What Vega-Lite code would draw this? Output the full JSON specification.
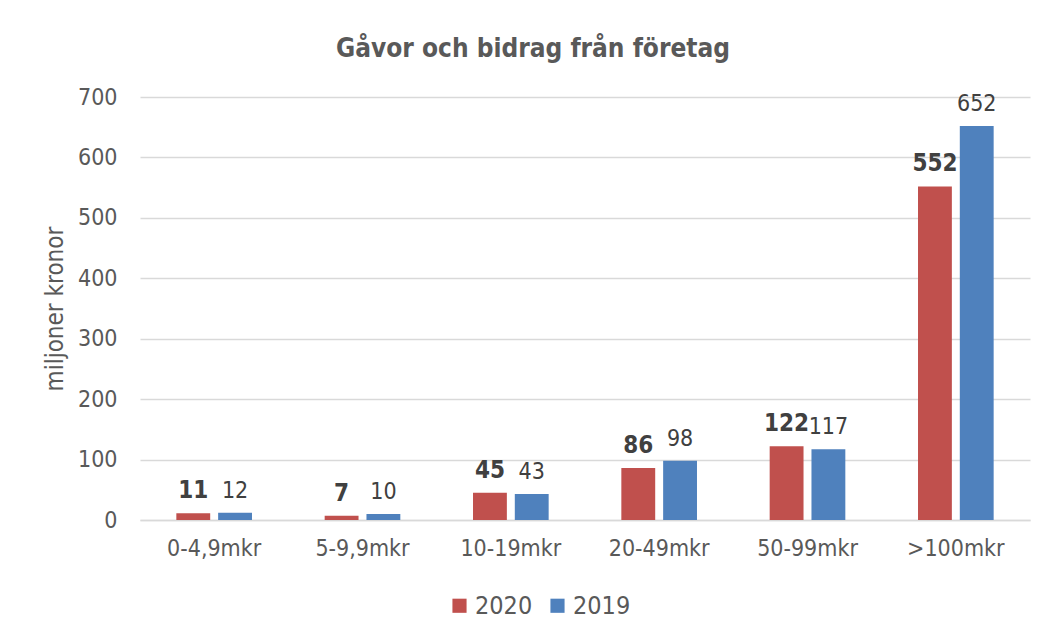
{
  "$schema": "https://vega.github.io/schema/vega-lite/v6.json",
  "autosize": {"type": "none"},
  "width": 890,
  "height": 423,
  "padding": {"left": 140, "top": 97, "right": 13, "bottom": 119},
  "background": "white",
  "title": {
    "text": "Gåvor och bidrag från företag",
    "font": "DejaVu Sans Condensed, Liberation Sans Narrow, DejaVu Sans",
    "fontSize": 26,
    "fontWeight": "bold",
    "color": "#595959",
    "anchor": "middle",
    "dx": -52,
    "offset": 24
  },
  "config": {
    "view": {"stroke": null},
    "font": "DejaVu Sans Condensed, Liberation Sans Narrow, DejaVu Sans"
  },
  "data": {
    "values": [
      {"kategori": "0-4,9mkr", "year": "2020", "value": 11},
      {"kategori": "0-4,9mkr", "year": "2019", "value": 12},
      {"kategori": "5-9,9mkr", "year": "2020", "value": 7},
      {"kategori": "5-9,9mkr", "year": "2019", "value": 10},
      {"kategori": "10-19mkr", "year": "2020", "value": 45},
      {"kategori": "10-19mkr", "year": "2019", "value": 43},
      {"kategori": "20-49mkr", "year": "2020", "value": 86},
      {"kategori": "20-49mkr", "year": "2019", "value": 98},
      {"kategori": "50-99mkr", "year": "2020", "value": 122},
      {"kategori": "50-99mkr", "year": "2019", "value": 117},
      {"kategori": ">100mkr", "year": "2020", "value": 552},
      {"kategori": ">100mkr", "year": "2019", "value": 652}
    ]
  },
  "encoding": {
    "x": {
      "field": "kategori",
      "type": "nominal",
      "sort": ["0-4,9mkr", "5-9,9mkr", "10-19mkr", "20-49mkr", "50-99mkr", ">100mkr"],
      "scale": {"paddingInner": 0.49, "paddingOuter": 0.245},
      "axis": {
        "title": null,
        "labelAngle": 0,
        "labelFontSize": 23,
        "labelColor": "#595959",
        "labelPadding": 17,
        "ticks": false,
        "domain": true,
        "domainColor": "#D9D9D9",
        "domainWidth": 1.5,
        "grid": false
      }
    },
    "xOffset": {
      "field": "year",
      "type": "nominal",
      "sort": ["2020", "2019"],
      "scale": {"paddingInner": 0.19, "paddingOuter": 0}
    },
    "y": {
      "field": "value",
      "type": "quantitative",
      "scale": {"domain": [0, 700], "nice": false},
      "axis": {
        "title": "miljoner kronor",
        "titleFontSize": 24,
        "titleFontWeight": "normal",
        "titleColor": "#595959",
        "titlePadding": 10,
        "values": [0, 100, 200, 300, 400, 500, 600, 700],
        "labelFontSize": 23,
        "labelColor": "#595959",
        "labelPadding": 23,
        "ticks": false,
        "domain": false,
        "gridColor": "#D9D9D9",
        "gridWidth": 1.5
      }
    }
  },
  "layer": [
    {
      "mark": {"type": "bar"},
      "encoding": {
        "color": {
          "field": "year",
          "type": "nominal",
          "scale": {"domain": ["2020", "2019"], "range": ["#C0504D", "#4F81BD"]},
          "legend": {
            "title": null,
            "orient": "none",
            "legendX": 307,
            "legendY": 496,
            "direction": "horizontal",
            "symbolType": "square",
            "symbolSize": 200,
            "symbolStrokeWidth": 0,
            "labelFontSize": 25,
            "labelColor": "#595959",
            "labelOffset": 3,
            "columnPadding": 12
          }
        }
      }
    },
    {
      "transform": [{"filter": "datum.year == '2020'"}],
      "mark": {"type": "text", "baseline": "alphabetic", "dy": -15, "fontSize": 24, "fontWeight": "bold", "color": "#404040"},
      "encoding": {"text": {"field": "value", "type": "quantitative"}}
    },
    {
      "transform": [{"filter": "datum.year == '2019'"}],
      "mark": {"type": "text", "baseline": "alphabetic", "dy": -15, "fontSize": 23, "fontWeight": "normal", "color": "#404040"},
      "encoding": {"text": {"field": "value", "type": "quantitative"}}
    }
  ]
}
